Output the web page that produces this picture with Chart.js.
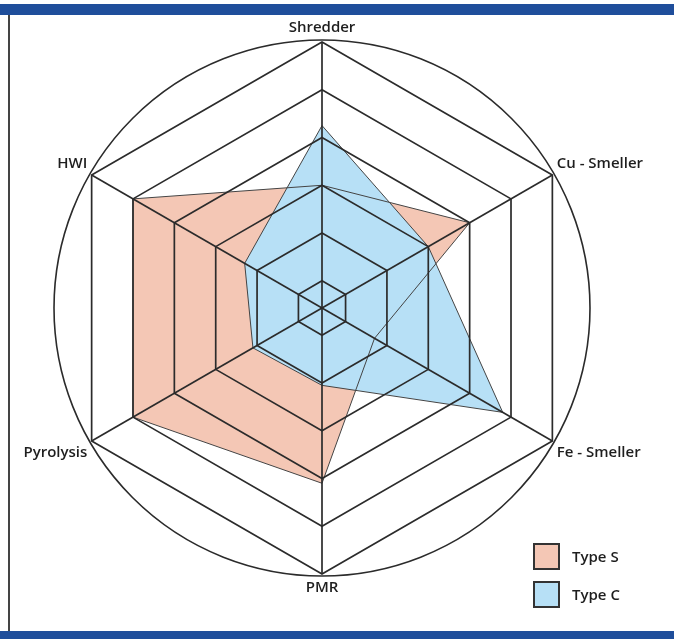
<!DOCTYPE html>
<html>
<head>
<meta charset="utf-8">
<script src="https://cdn.jsdelivr.net/npm/chart.js@4.4.1/dist/chart.umd.min.js"></script>
<style>
  html, body { margin: 0; padding: 0; background: #fff; }
  #frame { position: relative; width: 674px; height: 639px; overflow: hidden; }
  #topBar { position: absolute; left: 0; top: 4px; width: 674px; height: 11px; background: #1f4e9b; }
  #bottomBar { position: absolute; left: 0; top: 631px; width: 674px; height: 8px; background: #1f4e9b; }
  #leftLine { position: absolute; left: 8px; top: 15px; width: 1.5px; height: 616px; background: #444; }
  #wrap { position: absolute; left: 0; top: 0; width: 674px; height: 639px; }
  #legend { position: absolute; left: 533px; top: 543px; font-family: "Open Sans", sans-serif; font-weight: 600; font-size: 15px; color: #1e1e1e; }
  .item { display: flex; align-items: center; height: 26px; margin-bottom: 12px; }
  .box { width: 23px; height: 23px; border: 2px solid #333; margin-right: 12px; }
</style>
</head>
<body>
<div id="frame">
  <div id="topBar"></div>
  <div id="leftLine"></div>
  <div id="wrap"><canvas id="radarChart" width="674" height="639"></canvas></div>
  <div id="legend"></div>
  <div id="bottomBar"></div>
</div>
<script>
const labels = ['Shredder', 'Cu - Smeller', 'Fe - Smeller', 'PMR', 'Pyrolysis', 'HWI'];
const typeS = [3, 4, 1.7, 4.1, 5, 5];
const typeC = [4.25, 3, 4.8, 2.05, 2.1, 2.3];
const ringMin = 0.43;
const ringMax = 6;

// circle round the outer hexagon
const outerCircle = {
    id: 'outerCircle',
    afterDraw(chart) {
        const r = chart.scales.r;
        const ctx = chart.ctx;
        ctx.save();
        ctx.beginPath();
        ctx.arc(r.xCenter, r.yCenter, r.getDistanceFromCenterForValue(r.max) + 2, 0, Math.PI * 2);
        ctx.strokeStyle = '#2b2b2b';
        ctx.lineWidth = 1.6;
        ctx.stroke();
        ctx.restore();
    }
};

const ctx = document.getElementById('radarChart').getContext('2d');
const chart = new Chart(ctx, {
    type: 'radar',
    data: {
        labels: labels,
        datasets: [
            {
                label: 'Type S',
                data: typeS,
                backgroundColor: 'rgb(244, 199, 181)',
                borderColor: '#444',
                borderWidth: 1,
                pointRadius: 0,
                fill: true,
                order: 2
            },
            {
                label: 'Type C',
                data: typeC,
                backgroundColor: 'rgb(183, 224, 246)',
                borderColor: '#444',
                borderWidth: 1,
                pointRadius: 0,
                fill: true,
                order: 1
            }
        ]
    },
    options: {
        responsive: false,
        animation: false,
        layout: { padding: { top: 19, bottom: 42, left: 0, right: 15 } },
        plugins: {
            legend: { display: false },
            tooltip: { enabled: false },
            filler: { drawTime: 'beforeDatasetsDraw' }
        },
        scales: {
            r: {
                min: ringMin,
                max: ringMax,
                ticks: { stepSize: 1, display: false },
                grid: { color: '#2b2b2b', lineWidth: 1.7, z: 1 },
                angleLines: { color: '#2b2b2b', lineWidth: 1.7 },
                pointLabels: {
                    color: '#1e1e1e',
                    padding: 5,
                    font: { family: 'Open Sans', size: 15, weight: '600' }
                }
            }
        }
    },
    plugins: [outerCircle]
});

// legend as html from the datasets
const legendEl = document.getElementById('legend');
chart.data.datasets.forEach(ds => {
    const item = document.createElement('div');
    item.className = 'item';
    const box = document.createElement('div');
    box.className = 'box';
    box.style.background = ds.backgroundColor;
    const txt = document.createElement('span');
    txt.textContent = ds.label;
    item.appendChild(box);
    item.appendChild(txt);
    legendEl.appendChild(item);
});
</script>
</body>
</html>
